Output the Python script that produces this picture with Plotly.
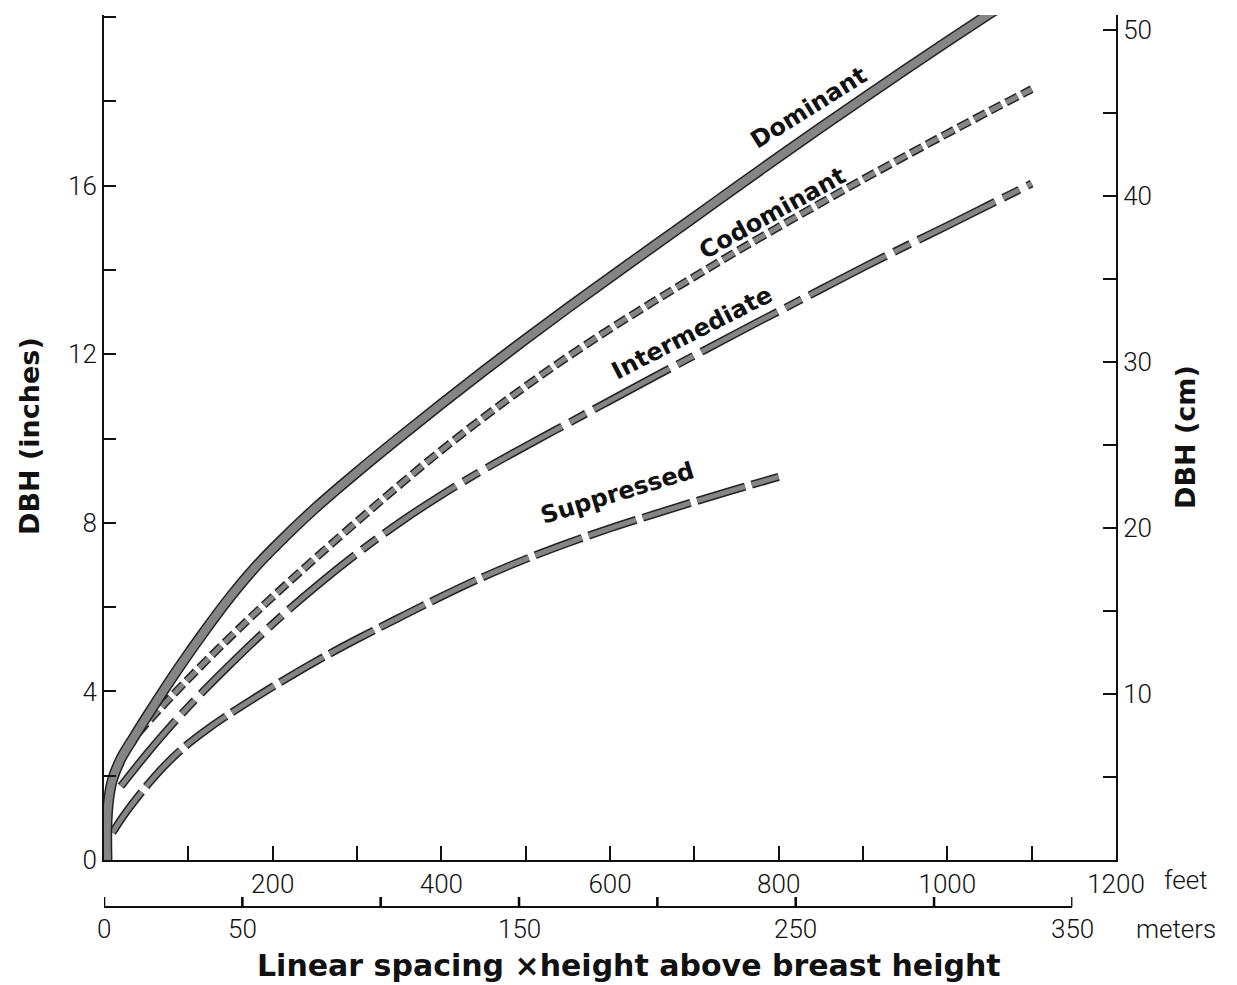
import plotly.graph_objects as go

# ---------------- data ----------------
dominant_ft = [3.5, 3.5, 6, 10, 20, 35, 50, 70, 90, 120, 150, 175, 200, 250, 300, 350, 400,
               450, 500, 550, 600, 650, 700, 750, 800, 850, 900, 950, 1000, 1050, 1100]
dominant_in = [0, 0.9, 1.5, 1.9, 2.4, 2.9, 3.38, 4.0, 4.6, 5.45, 6.25, 6.85, 7.38, 8.34, 9.2,
               10.02, 10.82, 11.6, 12.36, 13.1, 13.82, 14.54, 15.25, 15.97, 16.68, 17.38,
               18.07, 18.75, 19.42, 20.08, 20.73]

codom_ft = [40, 60, 80, 110, 140, 180, 220, 250, 300, 350, 400, 450, 500, 550, 600, 650, 700,
            750, 800, 850, 900, 950, 1000, 1050, 1100]
codom_in = [3.0, 3.45, 3.88, 4.5, 5.1, 5.87, 6.61, 7.15, 8.03, 8.89, 9.72, 10.5, 11.24, 11.94,
            12.6, 13.23, 13.84, 14.44, 15.02, 15.59, 16.15, 16.7, 17.24, 17.77, 18.29]

inter_ft = [20, 50, 80, 120, 150, 200, 250, 300, 350, 400, 450, 500, 550, 600, 650, 700, 750,
            800, 850, 900, 950, 1000, 1050, 1100]
inter_in = [1.75, 2.5, 3.2, 4.05, 4.65, 5.6, 6.47, 7.27, 8.0, 8.66, 9.26, 9.82, 10.36, 10.9,
            11.44, 11.97, 12.5, 13.02, 13.54, 14.06, 14.56, 15.05, 15.55, 16.05]

supp_ft = [10, 25, 45, 60, 80, 100, 125, 150, 175, 200, 250, 300, 350, 400, 450, 500, 550, 600,
           650, 700, 750, 800]
supp_in = [0.65, 1.1, 1.62, 1.98, 2.4, 2.76, 3.14, 3.48, 3.8, 4.11, 4.7, 5.24, 5.75, 6.25, 6.72,
           7.14, 7.52, 7.87, 8.19, 8.5, 8.8, 9.09]

feet_ticks = [0, 100, 200, 300, 400, 500, 600, 700, 800, 900, 1000, 1100, 1200]
feet_labels = ["", "", "200", "", "400", "", "600", "", "800", "", "1000", "", "1200"]
meter_ticks = [0, 50, 100, 150, 200, 250, 300, 350]
meter_labels = ["0", "50", "", "150", "", "250", "", "350"]
inch_ticks = [0, 2, 4, 6, 8, 10, 12, 14, 16, 18, 20]
inch_labels = ["0", "", "4", "", "8", "", "12", "", "16", "", ""]
cm_ticks = [5, 10, 15, 20, 25, 30, 35, 40, 45, 50]
cm_labels = ["", "10", "", "20", "", "30", "", "40", "", "50"]

labels = ["Dominant", "Codominant", "Intermediate", "Suppressed"]
label_ft = [835, 793, 697, 609]
label_in = [17.85, 15.35, 12.5, 8.7]
label_angle = [-32, -29, -27, -17]

# ---------------- geometry ----------------
W, H = 1237, 985
XL, XR, YT, YB = 104, 1116, 15, 860
Y_MAX = 20.05
X_MAX = 1200.0
M_PER_FT = 0.3048
meter_max = X_MAX * M_PER_FT
meter_end = 350
x_dom = [XL / W, XR / W]
y_dom = [1 - YB / H, 1 - YT / H]
x2_right = XL + (XR - XL) * meter_end / meter_max
x2_dom = [XL / W, x2_right / W]
meter_axis_y = 1 - 907 / H
meter_tick_top = meter_axis_y + 10 / H
meter_label_y = 1 - 929 / H

INK = "#111111"
OUT = "#222222"
FILL = "#858585"
TICKFONT = dict(family="Roboto", size=26, color=INK, weight=300)
BOLD = dict(family="DejaVu Sans", size=27, color=INK, weight="bold")

fig = go.Figure()


def outlined(x, y, width, dash):
    fig.add_trace(go.Scatter(x=x, y=y, mode="lines", xaxis="x", yaxis="y",
                             line=dict(color=OUT, width=width + 3, dash=dash,
                                       shape="spline", smoothing=1.0),
                             hoverinfo="skip", showlegend=False))
    fig.add_trace(go.Scatter(x=x, y=y, mode="lines", xaxis="x", yaxis="y",
                             line=dict(color=FILL, width=width, dash=dash,
                                       shape="spline", smoothing=1.0),
                             hoverinfo="skip", showlegend=False))


outlined(supp_ft, supp_in, 5, "50px,7px")
outlined(inter_ft, inter_in, 5, "86px,9px,18px,9px")
outlined(codom_ft, codom_in, 5, "13px,5px")
outlined(dominant_ft, dominant_in, 8, "solid")

# helper traces so that the secondary axes are drawn
fig.add_trace(go.Scatter(x=meter_ticks, y=[None] * len(meter_ticks), xaxis="x2", yaxis="y",
                         mode="lines", hoverinfo="skip", showlegend=False))
fig.add_trace(go.Scatter(x=[None] * len(cm_ticks), y=cm_ticks, xaxis="x", yaxis="y2",
                         mode="lines", hoverinfo="skip", showlegend=False))

axis_common = dict(showgrid=False, zeroline=False, showline=True, linecolor=INK,
                   linewidth=2, tickcolor=INK, tickwidth=2,
                   tickfont=TICKFONT, automargin=False, fixedrange=True)

fig.update_layout(
    width=W, height=H,
    margin=dict(l=0, r=0, t=0, b=0),
    paper_bgcolor="white", plot_bgcolor="rgba(0,0,0,0)",
    showlegend=False,
    xaxis=dict(domain=x_dom, range=[0, X_MAX], anchor="y", tickmode="array", ticks="inside",
               tickvals=feet_ticks, ticktext=feet_labels, ticklen=14, **axis_common),
    # meter scale line (ticks drawn below as short segments at the meter tick values)
    xaxis2=dict(domain=x2_dom, range=[0, meter_end], anchor="free", position=meter_axis_y,
                side="bottom", ticks="", showticklabels=False, **axis_common),
    yaxis=dict(domain=y_dom, range=[0, Y_MAX], anchor="x", tickmode="array", ticks="inside",
               tickvals=inch_ticks, ticktext=inch_labels, ticklen=12, **axis_common),
    yaxis2=dict(domain=y_dom, range=[0, Y_MAX * 2.54], anchor="x", overlaying="y",
                side="right", tickmode="array", ticks="inside", tickvals=cm_ticks,
                ticktext=cm_labels, ticklen=13, **axis_common),
)

# meter ticks and labels
for mv, ml in zip(meter_ticks, meter_labels):
    fig.add_shape(type="line", xref="x2", yref="paper", x0=mv, x1=mv, layer="above",
                  y0=meter_axis_y, y1=meter_tick_top, line=dict(color="#000000", width=2.5))
    if ml:
        fig.add_annotation(x=mv, y=meter_label_y, xref="x2", yref="paper", text=ml,
                           showarrow=False, xanchor="center", yanchor="middle", font=TICKFONT)

for t, xf, yi, a in zip(labels, label_ft, label_in, label_angle):
    fig.add_annotation(x=xf, y=yi, xref="x", yref="y", text=t, textangle=a,
                       showarrow=False, xanchor="center", yanchor="middle",
                       font=dict(family="DejaVu Sans", size=24, color=INK, weight="bold"))

fig.add_annotation(x=30 / W, y=1 - 436 / H, xref="paper", yref="paper", text="DBH (inches)",
                   textangle=-90, showarrow=False, xanchor="center", yanchor="middle", font=BOLD)
fig.add_annotation(x=1185 / W, y=1 - 437 / H, xref="paper", yref="paper", text="DBH (cm)",
                   textangle=-90, showarrow=False, xanchor="center", yanchor="middle", font=BOLD)
fig.add_annotation(x=1186 / W, y=1 - 880 / H, xref="paper", yref="paper", text="feet",
                   showarrow=False, xanchor="center", yanchor="middle", font=TICKFONT)
fig.add_annotation(x=1176 / W, y=meter_label_y, xref="paper", yref="paper", text="meters",
                   showarrow=False, xanchor="center", yanchor="middle", font=TICKFONT)
fig.add_annotation(x=629 / W, y=1 - 965 / H, xref="paper", yref="paper",
                   text="Linear spacing \u00d7height above breast height",
                   showarrow=False, xanchor="center", yanchor="middle",
                   font=dict(family="DejaVu Sans", size=30, color=INK, weight="bold"))

fig.write_html("out.html")
